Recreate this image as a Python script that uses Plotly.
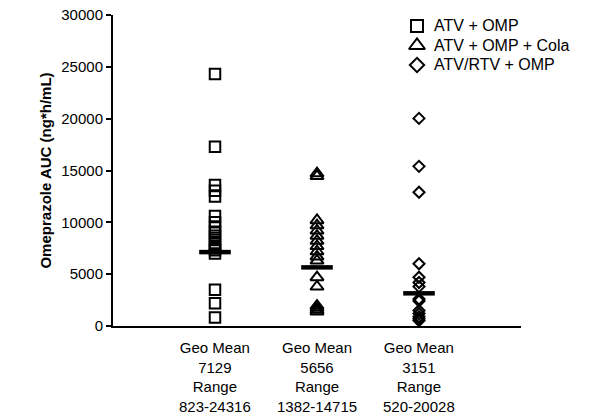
import plotly.graph_objects as go

groups = ["ATV + OMP", "ATV + OMP + Cola", "ATV/RTV + OMP"]
group_pos = [1, 2, 3]
symbols = ["square-open", "triangle-up-open", "diamond-open"]
sizes = [10.5, 11.5, 8.5]
legend_sizes = [12, 14, 11]

atv_omp = [24316, 17300, 13600, 13050, 12500, 10600, 10000, 9500, 9100, 8700,
           8300, 7900, 7500, 7300, 7000, 3500, 2200, 823]
atv_omp_cola = [14715, 14450, 10200, 9700, 9200, 8700, 8200, 7700, 7200, 6700,
                6300, 4700, 3800, 1950, 1750, 1550, 1382]
atv_rtv_omp = [20028, 15400, 12900, 6000, 4700, 4200, 3800, 2600, 2400,
               1500, 1200, 900, 700, 520]
series = [atv_omp, atv_omp_cola, atv_rtv_omp]

geo_means = [7129, 5656, 3151]
ranges = ["823-24316", "1382-14715", "520-20028"]

y_ticks = [0, 5000, 10000, 15000, 20000, 25000, 30000]

FONT = "Liberation Sans, Arial, sans-serif"
W, H = 598, 419
ML, MR, MT, MB = 113, 77, 15, 93
PW, PH = W - ML - MR, H - MT - MB

fig = go.Figure()
for name, pos, sym, sz, vals in zip(groups, group_pos, symbols, sizes, series):
    fig.add_trace(go.Scatter(
        x=[pos] * len(vals), y=vals, mode="markers", name=name,
        marker=dict(symbol=sym, size=sz, color="black",
                    line=dict(color="black", width=2)),
        showlegend=False,
    ))

for pos, gm in zip(group_pos, geo_means):
    fig.add_trace(go.Scatter(
        x=[pos - 0.155, pos + 0.155], y=[gm, gm], mode="lines",
        line=dict(color="black", width=4.5), showlegend=False, hoverinfo="skip",
    ))

# Hand-placed legend (symbol + label) in paper coordinates via overlay axes
leg_sym_x = (417 - ML) / PW
leg_txt_x = (432 - ML) / PW
leg_rows_px = [26, 45.5, 65]
for i, (name, sym, lsz) in enumerate(zip(groups, symbols, legend_sizes)):
    ly = (H - MB - leg_rows_px[i]) / PH
    fig.add_trace(go.Scatter(
        x=[leg_sym_x], y=[ly], xaxis="x2", yaxis="y2", mode="markers",
        marker=dict(symbol=sym, size=lsz, color="black",
                    line=dict(color="black", width=2)),
        showlegend=False, hoverinfo="skip", cliponaxis=False,
    ))
    fig.add_annotation(
        x=leg_txt_x, xref="paper", y=ly, yref="paper", xanchor="left",
        yanchor="middle", text=name, showarrow=False,
        font=dict(family=FONT, size=16, color="black"),
    )

for pos, gm, rg in zip(group_pos, geo_means, ranges):
    fig.add_annotation(
        x=pos, xref="x", y=-0.04, yref="paper", yanchor="top", xanchor="center",
        text=f"Geo Mean<br>{gm}<br>Range<br>{rg}", showarrow=False,
        font=dict(family=FONT, size=15, color="black"), align="center",
        borderpad=0,
    )

fig.update_layout(
    width=W, height=H,
    margin=dict(l=ML, r=MR, t=MT, b=MB, autoexpand=False),
    paper_bgcolor="white", plot_bgcolor="white",
    font=dict(family=FONT, color="black"),
    showlegend=False,
    xaxis=dict(range=[0, 4], showline=True, linecolor="black", linewidth=2,
               showticklabels=False, ticks="", showgrid=False, zeroline=False,
               automargin=False),
    yaxis=dict(range=[0, 30000], tickvals=y_ticks, tickformat="d",
               ticks="outside", ticklen=5, automargin=False,
               tickwidth=2, tickcolor="black", showline=True, linecolor="black",
               linewidth=2, showgrid=False, zeroline=False,
               tickfont=dict(family=FONT, size=15, color="black"),
               title=dict(text="<b>Omeprazole AUC (ng*h/mL)</b>", standoff=6,
                          font=dict(family=FONT, size=15, color="black"))),
    xaxis2=dict(range=[0, 1], overlaying="x", visible=False, fixedrange=True),
    yaxis2=dict(range=[0, 1], overlaying="y", visible=False, fixedrange=True),
)

fig.write_html("out.html")
